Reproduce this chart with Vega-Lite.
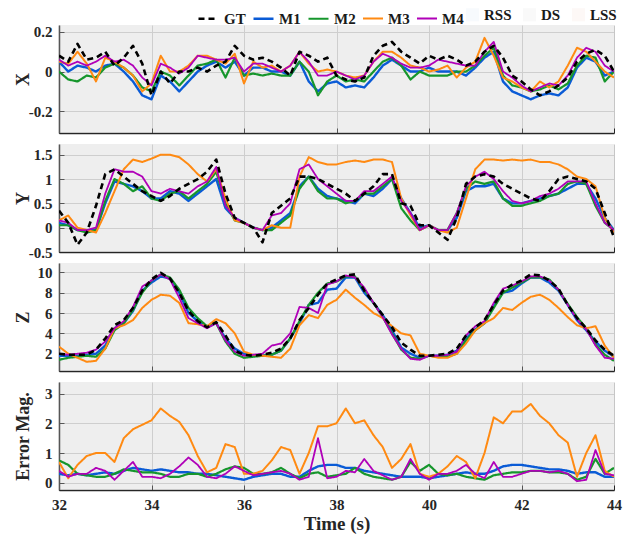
{
"$schema": "https://vega.github.io/schema/vega-lite/v6.json",
"background": "white",
"padding": {"left": 14, "top": 7, "right": 6, "bottom": 3},
"config": {
 "font": "Liberation Serif",
 "view": {"fill": "#f0f0f0", "stroke": null},
 "axis": {"labelFont": "Liberation Serif", "labelFontSize": 15, "labelFontWeight": "bold", "labelColor": "#262626", "titleFont": "Liberation Serif", "titleFontSize": 18, "titleFontWeight": "bold", "titleColor": "#262626", "gridColor": "#c6c6c6", "gridWidth": 1, "domainColor": "#262626", "domainWidth": 1.5, "tickColor": "#262626", "tickSize": -5, "labelPadding": 12, "labelOverlap": false, "labelBound": false, "labelFlush": false},
 "line": {"strokeJoin": "round"}
},
"datasets": {
 "dx": [
{"t":32.0,"GT":0.08,"M1":0.05,"M2":0.0,"M3":0.05,"M4":0.06},
{"t":32.2,"GT":0.05,"M1":0.0,"M2":-0.04,"M3":0.04,"M4":0.03},
{"t":32.4,"GT":0.14,"M1":0.03,"M2":-0.05,"M3":0.1,"M4":0.05},
{"t":32.6,"GT":0.06,"M1":0.02,"M2":-0.02,"M3":0.04,"M4":0.03},
{"t":32.8,"GT":0.07,"M1":0.0,"M2":-0.03,"M3":-0.05,"M4":0.05},
{"t":33.0,"GT":0.1,"M1":0.03,"M2":0.02,"M3":0.07,"M4":0.08},
{"t":33.2,"GT":0.03,"M1":0.04,"M2":0.04,"M3":0.05,"M4":0.05},
{"t":33.4,"GT":0.07,"M1":0.0,"M2":0.02,"M3":0.02,"M4":0.06},
{"t":33.6,"GT":0.13,"M1":-0.05,"M2":-0.02,"M3":-0.02,"M4":0.03},
{"t":33.8,"GT":0.04,"M1":-0.12,"M2":-0.08,"M3":-0.1,"M4":-0.03},
{"t":34.0,"GT":-0.12,"M1":-0.14,"M2":-0.1,"M3":-0.06,"M4":-0.07},
{"t":34.2,"GT":0.0,"M1":-0.02,"M2":0.0,"M3":0.08,"M4":0.04},
{"t":34.4,"GT":-0.06,"M1":-0.05,"M2":-0.02,"M3":0.0,"M4":0.02},
{"t":34.6,"GT":0.0,"M1":-0.1,"M2":-0.07,"M3":0.0,"M4":-0.01},
{"t":34.8,"GT":0.0,"M1":-0.05,"M2":-0.02,"M3":0.03,"M4":0.02},
{"t":35.0,"GT":0.02,"M1":0.0,"M2":0.03,"M3":0.08,"M4":0.08},
{"t":35.2,"GT":0.0,"M1":0.03,"M2":0.04,"M3":0.08,"M4":0.07},
{"t":35.4,"GT":0.03,"M1":0.05,"M2":0.06,"M3":0.06,"M4":0.06},
{"t":35.6,"GT":0.05,"M1":0.02,"M2":-0.03,"M3":0.04,"M4":0.06},
{"t":35.8,"GT":0.13,"M1":0.05,"M2":0.07,"M3":0.09,"M4":0.07},
{"t":36.0,"GT":0.08,"M1":-0.02,"M2":-0.02,"M3":-0.06,"M4":0.0},
{"t":36.2,"GT":0.06,"M1":0.02,"M2":-0.01,"M3":0.05,"M4":0.04},
{"t":36.4,"GT":0.07,"M1":0.02,"M2":-0.02,"M3":0.02,"M4":0.04},
{"t":36.6,"GT":0.05,"M1":0.0,"M2":-0.01,"M3":0.03,"M4":0.02},
{"t":36.8,"GT":0.02,"M1":0.0,"M2":-0.02,"M3":0.0,"M4":0.0},
{"t":37.0,"GT":-0.02,"M1":-0.02,"M2":-0.02,"M3":0.03,"M4":0.03},
{"t":37.2,"GT":0.1,"M1":0.05,"M2":0.05,"M3":0.1,"M4":0.1},
{"t":37.4,"GT":0.08,"M1":-0.05,"M2":0.0,"M3":0.04,"M4":0.05},
{"t":37.6,"GT":0.05,"M1":-0.1,"M2":-0.12,"M3":0.0,"M4":-0.02},
{"t":37.8,"GT":0.07,"M1":-0.06,"M2":-0.05,"M3":0.01,"M4":-0.02},
{"t":38.0,"GT":-0.02,"M1":-0.05,"M2":-0.02,"M3":0.0,"M4":0.0},
{"t":38.2,"GT":-0.04,"M1":-0.08,"M2":-0.05,"M3":-0.02,"M4":-0.02},
{"t":38.4,"GT":-0.05,"M1":-0.07,"M2":-0.04,"M3":-0.03,"M4":-0.04},
{"t":38.6,"GT":-0.03,"M1":-0.08,"M2":-0.05,"M3":-0.02,"M4":-0.02},
{"t":38.8,"GT":0.08,"M1":-0.03,"M2":0.0,"M3":0.05,"M4":0.05},
{"t":39.0,"GT":0.13,"M1":0.03,"M2":0.05,"M3":0.1,"M4":0.09},
{"t":39.2,"GT":0.15,"M1":0.06,"M2":0.07,"M3":0.1,"M4":0.07},
{"t":39.4,"GT":0.1,"M1":0.03,"M2":0.03,"M3":0.07,"M4":0.04},
{"t":39.6,"GT":0.07,"M1":0.0,"M2":-0.04,"M3":0.03,"M4":0.02},
{"t":39.8,"GT":0.04,"M1":0.0,"M2":0.0,"M3":0.02,"M4":0.02},
{"t":40.0,"GT":0.08,"M1":0.02,"M2":-0.02,"M3":0.0,"M4":0.03},
{"t":40.2,"GT":0.06,"M1":0.0,"M2":-0.02,"M3":0.01,"M4":0.06},
{"t":40.4,"GT":0.08,"M1":0.0,"M2":-0.02,"M3":0.03,"M4":0.05},
{"t":40.6,"GT":0.06,"M1":0.0,"M2":0.0,"M3":-0.03,"M4":0.04},
{"t":40.8,"GT":0.03,"M1":-0.02,"M2":0.0,"M3":0.02,"M4":0.03},
{"t":41.0,"GT":0.05,"M1":0.02,"M2":0.03,"M3":0.05,"M4":0.03},
{"t":41.2,"GT":0.1,"M1":0.07,"M2":0.08,"M3":0.17,"M4":0.1},
{"t":41.4,"GT":0.13,"M1":0.1,"M2":0.12,"M3":0.08,"M4":0.15},
{"t":41.6,"GT":0.07,"M1":-0.05,"M2":-0.02,"M3":-0.03,"M4":0.0},
{"t":41.8,"GT":-0.02,"M1":-0.1,"M2":-0.07,"M3":-0.05,"M4":-0.03},
{"t":42.0,"GT":-0.05,"M1":-0.12,"M2":-0.08,"M3":-0.08,"M4":-0.07},
{"t":42.2,"GT":-0.09,"M1":-0.14,"M2":-0.1,"M3":-0.1,"M4":-0.1},
{"t":42.4,"GT":-0.12,"M1":-0.12,"M2":-0.09,"M3":-0.05,"M4":-0.08},
{"t":42.6,"GT":-0.1,"M1":-0.11,"M2":-0.07,"M3":-0.08,"M4":-0.06},
{"t":42.8,"GT":-0.07,"M1":-0.12,"M2":-0.09,"M3":-0.05,"M4":-0.07},
{"t":43.0,"GT":-0.03,"M1":-0.08,"M2":-0.06,"M3":0.03,"M4":-0.02},
{"t":43.2,"GT":0.05,"M1":0.02,"M2":0.03,"M3":0.12,"M4":0.07},
{"t":43.4,"GT":0.09,"M1":0.07,"M2":0.08,"M3":0.1,"M4":0.12},
{"t":43.6,"GT":0.11,"M1":0.05,"M2":0.07,"M3":0.05,"M4":0.1},
{"t":43.8,"GT":0.08,"M1":-0.02,"M2":-0.05,"M3":0.0,"M4":0.03},
{"t":44.0,"GT":0.0,"M1":0.0,"M2":0.0,"M3":-0.03,"M4":0.0}
 ],
 "dy": [
{"t":32.0,"GT":0.35,"M1":0.1,"M2":0.05,"M3":0.15,"M4":0.15},
{"t":32.2,"GT":0.1,"M1":0.05,"M2":0.05,"M3":0.25,"M4":0.1},
{"t":32.4,"GT":-0.35,"M1":-0.05,"M2":-0.05,"M3":0.0,"M4":-0.05},
{"t":32.6,"GT":-0.1,"M1":-0.05,"M2":-0.1,"M3":-0.05,"M4":-0.05},
{"t":32.8,"GT":0.45,"M1":-0.05,"M2":-0.05,"M3":-0.1,"M4":0.0},
{"t":33.0,"GT":1.1,"M1":0.5,"M2":0.55,"M3":0.3,"M4":0.7},
{"t":33.2,"GT":1.2,"M1":0.95,"M2":1.0,"M3":0.75,"M4":1.2},
{"t":33.4,"GT":1.05,"M1":0.9,"M2":0.9,"M3":1.2,"M4":1.15},
{"t":33.6,"GT":0.9,"M1":0.85,"M2":0.75,"M3":1.4,"M4":1.15},
{"t":33.8,"GT":0.75,"M1":0.75,"M2":0.85,"M3":1.35,"M4":1.05},
{"t":34.0,"GT":0.65,"M1":0.6,"M2":0.6,"M3":1.42,"M4":0.75},
{"t":34.2,"GT":0.55,"M1":0.6,"M2":0.55,"M3":1.5,"M4":0.7},
{"t":34.4,"GT":0.65,"M1":0.75,"M2":0.7,"M3":1.5,"M4":0.8},
{"t":34.6,"GT":0.8,"M1":0.7,"M2":0.75,"M3":1.45,"M4":0.75},
{"t":34.8,"GT":0.9,"M1":0.55,"M2":0.6,"M3":1.3,"M4":0.7},
{"t":35.0,"GT":1.0,"M1":0.7,"M2":0.75,"M3":1.1,"M4":0.85},
{"t":35.2,"GT":1.15,"M1":0.85,"M2":0.9,"M3":0.95,"M4":0.95},
{"t":35.4,"GT":1.4,"M1":1.0,"M2":1.15,"M3":1.2,"M4":1.25},
{"t":35.6,"GT":0.7,"M1":0.4,"M2":0.5,"M3":0.6,"M4":0.45},
{"t":35.8,"GT":0.2,"M1":0.2,"M2":0.15,"M3":0.15,"M4":0.2},
{"t":36.0,"GT":0.1,"M1":0.1,"M2":0.1,"M3":0.1,"M4":0.1},
{"t":36.2,"GT":0.0,"M1":0.0,"M2":0.0,"M3":0.0,"M4":0.0},
{"t":36.4,"GT":-0.3,"M1":-0.05,"M2":-0.05,"M3":-0.05,"M4":-0.05},
{"t":36.6,"GT":0.3,"M1":0.0,"M2":-0.05,"M3":0.05,"M4":0.25},
{"t":36.8,"GT":0.45,"M1":0.15,"M2":0.1,"M3":0.0,"M4":0.3},
{"t":37.0,"GT":0.6,"M1":0.3,"M2":0.25,"M3":0.0,"M4":0.5},
{"t":37.2,"GT":1.05,"M1":0.85,"M2":0.8,"M3":1.05,"M4":1.2},
{"t":37.4,"GT":1.05,"M1":1.05,"M2":1.05,"M3":1.45,"M4":1.3},
{"t":37.6,"GT":1.0,"M1":0.8,"M2":0.75,"M3":1.35,"M4":1.0},
{"t":37.8,"GT":0.9,"M1":0.65,"M2":0.6,"M3":1.3,"M4":0.85},
{"t":38.0,"GT":0.8,"M1":0.6,"M2":0.6,"M3":1.3,"M4":0.7},
{"t":38.2,"GT":0.7,"M1":0.55,"M2":0.5,"M3":1.35,"M4":0.55},
{"t":38.4,"GT":0.55,"M1":0.5,"M2":0.55,"M3":1.38,"M4":0.55},
{"t":38.6,"GT":0.7,"M1":0.7,"M2":0.7,"M3":1.35,"M4":0.75},
{"t":38.8,"GT":0.85,"M1":0.65,"M2":0.7,"M3":1.4,"M4":0.75},
{"t":39.0,"GT":1.1,"M1":0.8,"M2":0.85,"M3":1.4,"M4":0.9},
{"t":39.2,"GT":1.1,"M1":1.0,"M2":1.0,"M3":1.35,"M4":1.05},
{"t":39.4,"GT":0.5,"M1":0.6,"M2":0.4,"M3":0.6,"M4":0.55},
{"t":39.6,"GT":0.45,"M1":0.3,"M2":0.15,"M3":0.25,"M4":0.3},
{"t":39.8,"GT":0.05,"M1":0.0,"M2":-0.05,"M3":-0.05,"M4":-0.05},
{"t":40.0,"GT":0.05,"M1":0.05,"M2":0.05,"M3":0.05,"M4":0.05},
{"t":40.2,"GT":-0.1,"M1":-0.05,"M2":-0.05,"M3":-0.05,"M4":-0.05},
{"t":40.4,"GT":-0.25,"M1":-0.05,"M2":-0.05,"M3":-0.1,"M4":-0.05},
{"t":40.6,"GT":0.2,"M1":0.2,"M2":0.3,"M3":0.0,"M4":0.3},
{"t":40.8,"GT":0.9,"M1":0.75,"M2":0.8,"M3":0.6,"M4":0.85},
{"t":41.0,"GT":1.05,"M1":0.85,"M2":0.95,"M3":1.2,"M4":1.05},
{"t":41.2,"GT":1.1,"M1":0.85,"M2":0.9,"M3":1.4,"M4":1.15},
{"t":41.4,"GT":1.05,"M1":0.9,"M2":0.95,"M3":1.4,"M4":1.0},
{"t":41.6,"GT":0.9,"M1":0.6,"M2":0.6,"M3":1.38,"M4":0.75},
{"t":41.8,"GT":0.8,"M1":0.5,"M2":0.45,"M3":1.4,"M4":0.55},
{"t":42.0,"GT":0.7,"M1":0.5,"M2":0.45,"M3":1.38,"M4":0.5},
{"t":42.2,"GT":0.6,"M1":0.55,"M2":0.5,"M3":1.4,"M4":0.55},
{"t":42.4,"GT":0.55,"M1":0.6,"M2":0.55,"M3":1.35,"M4":0.65},
{"t":42.6,"GT":0.75,"M1":0.65,"M2":0.65,"M3":1.35,"M4":0.7},
{"t":42.8,"GT":1.0,"M1":0.7,"M2":0.7,"M3":1.3,"M4":0.8},
{"t":43.0,"GT":1.05,"M1":0.8,"M2":0.9,"M3":1.2,"M4":0.95},
{"t":43.2,"GT":1.0,"M1":0.9,"M2":0.95,"M3":1.05,"M4":0.95},
{"t":43.4,"GT":0.95,"M1":0.9,"M2":0.9,"M3":1.0,"M4":0.95},
{"t":43.6,"GT":0.8,"M1":0.6,"M2":0.45,"M3":0.85,"M4":0.5},
{"t":43.8,"GT":0.3,"M1":0.2,"M2":0.1,"M3":0.2,"M4":0.1},
{"t":44.0,"GT":-0.2,"M1":-0.05,"M2":-0.05,"M3":-0.1,"M4":-0.05}
 ],
 "dz": [
{"t":32.0,"GT":2.0,"M1":1.8,"M2":1.4,"M3":2.7,"M4":2.0},
{"t":32.2,"GT":1.9,"M1":1.8,"M2":1.6,"M3":2.0,"M4":1.9},
{"t":32.4,"GT":1.9,"M1":1.8,"M2":1.7,"M3":1.6,"M4":2.0},
{"t":32.6,"GT":1.9,"M1":1.9,"M2":1.8,"M3":1.2,"M4":2.1},
{"t":32.8,"GT":2.4,"M1":2.0,"M2":1.7,"M3":1.3,"M4":2.4},
{"t":33.0,"GT":3.5,"M1":2.8,"M2":2.5,"M3":2.5,"M4":3.2},
{"t":33.2,"GT":4.8,"M1":4.5,"M2":4.3,"M3":4.5,"M4":4.5},
{"t":33.4,"GT":5.3,"M1":5.0,"M2":5.0,"M3":4.8,"M4":5.2},
{"t":33.6,"GT":6.5,"M1":6.2,"M2":6.3,"M3":5.3,"M4":6.6},
{"t":33.8,"GT":8.2,"M1":8.2,"M2":8.0,"M3":6.5,"M4":8.6},
{"t":34.0,"GT":9.3,"M1":9.0,"M2":9.2,"M3":7.3,"M4":9.2},
{"t":34.2,"GT":9.95,"M1":9.6,"M2":9.8,"M3":7.8,"M4":9.8},
{"t":34.4,"GT":9.4,"M1":9.4,"M2":9.5,"M3":7.7,"M4":9.3},
{"t":34.6,"GT":8.0,"M1":8.0,"M2":8.3,"M3":7.0,"M4":7.5},
{"t":34.8,"GT":6.2,"M1":6.0,"M2":6.5,"M3":5.0,"M4":5.5},
{"t":35.0,"GT":5.2,"M1":5.2,"M2":5.5,"M3":4.9,"M4":5.0},
{"t":35.2,"GT":4.6,"M1":4.6,"M2":4.7,"M3":4.7,"M4":4.5},
{"t":35.4,"GT":5.1,"M1":5.0,"M2":5.0,"M3":5.4,"M4":5.0},
{"t":35.6,"GT":3.8,"M1":3.5,"M2":3.2,"M3":5.0,"M4":3.3},
{"t":35.8,"GT":2.3,"M1":2.5,"M2":2.0,"M3":4.0,"M4":2.2},
{"t":36.0,"GT":1.9,"M1":2.0,"M2":1.6,"M3":2.2,"M4":1.8},
{"t":36.2,"GT":1.8,"M1":1.8,"M2":1.7,"M3":1.9,"M4":1.9},
{"t":36.4,"GT":1.9,"M1":1.8,"M2":1.8,"M3":1.8,"M4":2.0},
{"t":36.6,"GT":2.1,"M1":1.9,"M2":1.9,"M3":1.7,"M4":2.8},
{"t":36.8,"GT":2.5,"M1":2.3,"M2":2.3,"M3":1.6,"M4":3.0},
{"t":37.0,"GT":3.5,"M1":3.5,"M2":3.5,"M3":2.5,"M4":4.0},
{"t":37.2,"GT":5.3,"M1":5.0,"M2":5.2,"M3":4.8,"M4":6.6},
{"t":37.4,"GT":6.5,"M1":6.8,"M2":6.8,"M3":5.8,"M4":6.5},
{"t":37.6,"GT":7.8,"M1":7.0,"M2":8.0,"M3":5.5,"M4":6.0},
{"t":37.8,"GT":8.9,"M1":8.3,"M2":8.9,"M3":6.8,"M4":8.8},
{"t":38.0,"GT":9.3,"M1":8.4,"M2":9.1,"M3":7.3,"M4":9.1},
{"t":38.2,"GT":9.7,"M1":9.5,"M2":9.6,"M3":8.3,"M4":9.7},
{"t":38.4,"GT":9.8,"M1":9.5,"M2":9.6,"M3":7.5,"M4":9.5},
{"t":38.6,"GT":8.2,"M1":8.0,"M2":8.3,"M3":6.8,"M4":8.5},
{"t":38.8,"GT":7.0,"M1":7.0,"M2":7.0,"M3":6.0,"M4":7.0},
{"t":39.0,"GT":5.8,"M1":5.8,"M2":5.6,"M3":5.5,"M4":5.6},
{"t":39.2,"GT":4.6,"M1":4.3,"M2":4.0,"M3":4.7,"M4":3.9},
{"t":39.4,"GT":3.1,"M1":2.6,"M2":2.4,"M3":4.0,"M4":2.5},
{"t":39.6,"GT":2.4,"M1":2.0,"M2":1.6,"M3":3.8,"M4":1.5},
{"t":39.8,"GT":1.8,"M1":1.6,"M2":1.5,"M3":2.0,"M4":1.4},
{"t":40.0,"GT":1.8,"M1":1.8,"M2":1.8,"M3":1.8,"M4":1.8},
{"t":40.2,"GT":1.9,"M1":1.8,"M2":1.7,"M3":1.6,"M4":1.8},
{"t":40.4,"GT":2.0,"M1":1.9,"M2":1.7,"M3":1.6,"M4":1.9},
{"t":40.6,"GT":2.5,"M1":2.3,"M2":2.0,"M3":2.0,"M4":2.2},
{"t":40.8,"GT":3.8,"M1":3.5,"M2":3.3,"M3":3.0,"M4":3.8},
{"t":41.0,"GT":4.6,"M1":4.4,"M2":4.3,"M3":4.3,"M4":4.7},
{"t":41.2,"GT":5.3,"M1":5.0,"M2":5.0,"M3":5.0,"M4":5.2},
{"t":41.4,"GT":6.8,"M1":6.8,"M2":6.5,"M3":5.5,"M4":7.0},
{"t":41.6,"GT":8.2,"M1":8.0,"M2":8.0,"M3":6.5,"M4":8.4},
{"t":41.8,"GT":8.8,"M1":8.2,"M2":8.5,"M3":6.3,"M4":8.7},
{"t":42.0,"GT":9.2,"M1":8.9,"M2":9.0,"M3":7.0,"M4":9.1},
{"t":42.2,"GT":9.8,"M1":9.5,"M2":9.5,"M3":7.6,"M4":9.6},
{"t":42.4,"GT":9.7,"M1":9.5,"M2":9.5,"M3":7.8,"M4":9.6},
{"t":42.6,"GT":9.2,"M1":9.0,"M2":9.3,"M3":7.3,"M4":9.2},
{"t":42.8,"GT":8.4,"M1":8.2,"M2":8.3,"M3":6.5,"M4":8.3},
{"t":43.0,"GT":6.8,"M1":6.8,"M2":6.9,"M3":5.6,"M4":6.8},
{"t":43.2,"GT":5.5,"M1":5.3,"M2":5.6,"M3":4.8,"M4":5.4},
{"t":43.4,"GT":4.5,"M1":4.3,"M2":4.5,"M3":4.5,"M4":4.4},
{"t":43.6,"GT":3.3,"M1":3.2,"M2":2.9,"M3":4.7,"M4":2.8},
{"t":43.8,"GT":2.4,"M1":2.3,"M2":1.9,"M3":2.8,"M4":1.6},
{"t":44.0,"GT":1.8,"M1":1.7,"M2":1.3,"M3":1.6,"M4":1.5}
 ],
 "de": [
{"t":32.0,"M1":0.3,"M2":0.75,"M3":0.7,"M4":0.4},
{"t":32.2,"M1":0.25,"M2":0.6,"M3":0.15,"M4":0.2},
{"t":32.4,"M1":0.3,"M2":0.3,"M3":0.6,"M4":0.3},
{"t":32.6,"M1":0.25,"M2":0.25,"M3":0.9,"M4":0.3},
{"t":32.8,"M1":0.3,"M2":0.2,"M3":1.0,"M4":0.5},
{"t":33.0,"M1":0.35,"M2":0.2,"M3":1.0,"M4":0.4},
{"t":33.2,"M1":0.3,"M2":0.3,"M3":0.7,"M4":0.1},
{"t":33.4,"M1":0.4,"M2":0.45,"M3":1.5,"M4":0.4},
{"t":33.6,"M1":0.5,"M2":0.4,"M3":1.8,"M4":0.7},
{"t":33.8,"M1":0.45,"M2":0.35,"M3":1.95,"M4":0.2},
{"t":34.0,"M1":0.4,"M2":0.35,"M3":2.1,"M4":0.2},
{"t":34.2,"M1":0.45,"M2":0.3,"M3":2.5,"M4":0.15},
{"t":34.4,"M1":0.4,"M2":0.2,"M3":2.25,"M4":0.3},
{"t":34.6,"M1":0.35,"M2":0.2,"M3":2.05,"M4":0.55},
{"t":34.8,"M1":0.35,"M2":0.3,"M3":1.6,"M4":0.85},
{"t":35.0,"M1":0.3,"M2":0.3,"M3":0.9,"M4":0.6},
{"t":35.2,"M1":0.3,"M2":0.2,"M3":0.35,"M4":0.2},
{"t":35.4,"M1":0.25,"M2":0.3,"M3":0.5,"M4":0.15},
{"t":35.6,"M1":0.2,"M2":0.45,"M3":1.3,"M4":0.3},
{"t":35.8,"M1":0.15,"M2":0.55,"M3":1.2,"M4":0.55},
{"t":36.0,"M1":0.1,"M2":0.5,"M3":0.3,"M4":0.4},
{"t":36.2,"M1":0.2,"M2":0.3,"M3":0.3,"M4":0.25},
{"t":36.4,"M1":0.25,"M2":0.3,"M3":0.4,"M4":0.3},
{"t":36.6,"M1":0.3,"M2":0.35,"M3":0.75,"M4":0.35},
{"t":36.8,"M1":0.3,"M2":0.5,"M3":1.2,"M4":0.4},
{"t":37.0,"M1":0.2,"M2":0.3,"M3":1.1,"M4":0.3},
{"t":37.2,"M1":0.2,"M2":0.15,"M3":0.3,"M4":0.1},
{"t":37.4,"M1":0.4,"M2":0.3,"M3":1.0,"M4":0.2},
{"t":37.6,"M1":0.55,"M2":0.35,"M3":1.9,"M4":1.5},
{"t":37.8,"M1":0.6,"M2":0.2,"M3":1.9,"M4":0.15},
{"t":38.0,"M1":0.6,"M2":0.25,"M3":2.0,"M4":0.2},
{"t":38.2,"M1":0.5,"M2":0.3,"M3":2.5,"M4":0.4},
{"t":38.4,"M1":0.5,"M2":0.5,"M3":2.0,"M4":0.35},
{"t":38.6,"M1":0.4,"M2":0.3,"M3":2.1,"M4":0.8},
{"t":38.8,"M1":0.35,"M2":0.2,"M3":1.6,"M4":0.4},
{"t":39.0,"M1":0.3,"M2":0.15,"M3":1.2,"M4":0.25},
{"t":39.2,"M1":0.25,"M2":0.1,"M3":0.5,"M4":0.1},
{"t":39.4,"M1":0.2,"M2":0.2,"M3":0.8,"M4":0.2},
{"t":39.6,"M1":0.2,"M2":0.7,"M3":1.3,"M4":0.8},
{"t":39.8,"M1":0.2,"M2":0.4,"M3":0.3,"M4":0.3},
{"t":40.0,"M1":0.15,"M2":0.6,"M3":0.2,"M4":0.1},
{"t":40.2,"M1":0.2,"M2":0.3,"M3":0.3,"M4":0.3},
{"t":40.4,"M1":0.25,"M2":0.25,"M3":0.55,"M4":0.3},
{"t":40.6,"M1":0.3,"M2":0.3,"M3":0.9,"M4":0.4},
{"t":40.8,"M1":0.35,"M2":0.2,"M3":0.7,"M4":0.6},
{"t":41.0,"M1":0.3,"M2":0.15,"M3":0.15,"M4":0.3},
{"t":41.2,"M1":0.3,"M2":0.1,"M3":1.0,"M4":0.15},
{"t":41.4,"M1":0.4,"M2":0.25,"M3":2.2,"M4":0.7},
{"t":41.6,"M1":0.55,"M2":0.3,"M3":2.0,"M4":0.2},
{"t":41.8,"M1":0.6,"M2":0.35,"M3":2.4,"M4":0.2},
{"t":42.0,"M1":0.6,"M2":0.35,"M3":2.4,"M4":0.3},
{"t":42.2,"M1":0.55,"M2":0.4,"M3":2.65,"M4":0.4},
{"t":42.4,"M1":0.5,"M2":0.4,"M3":2.25,"M4":0.4},
{"t":42.6,"M1":0.45,"M2":0.35,"M3":2.0,"M4":0.35},
{"t":42.8,"M1":0.45,"M2":0.35,"M3":1.6,"M4":0.4},
{"t":43.0,"M1":0.4,"M2":0.3,"M3":1.35,"M4":0.3},
{"t":43.2,"M1":0.3,"M2":0.1,"M3":0.2,"M4":0.05},
{"t":43.4,"M1":0.35,"M2":0.2,"M3":1.0,"M4":0.1},
{"t":43.6,"M1":0.35,"M2":0.8,"M3":1.6,"M4":1.1},
{"t":43.8,"M1":0.2,"M2":0.3,"M3":0.4,"M4":0.3},
{"t":44.0,"M1":0.2,"M2":0.5,"M3":0.2,"M4":0.25}
 ],
 "ph": [{"ph":"DS","t":32,"t2":44}]
},
"spacing": 11,
"bounds": "flush",
"resolve": {"scale": {"x": "shared", "y": "independent", "color": "shared", "strokeDash": "shared", "strokeWidth": "shared", "fill": "shared"}},
"vconcat": [
 {
  "width": 555, "height": 108,
  "encoding": {"x": {"field": "t", "type": "quantitative", "scale": {"domain": [32, 44], "nice": false}, "axis": {"tickCount": 6, "labels": false, "title": null, "grid": true}}},
  "layer": [
   {"data": {"name": "ph"}, "mark": {"type": "rect", "opacity": 0.25},
    "encoding": {"x2": {"field": "t2"}, "fill": {"field": "ph", "type": "nominal", "scale": {"domain": ["RSS","DS","LSS"], "range": ["#e1ecf8","#e6e6e6","#f9e4dd"]}, "legend": {"orient": "none", "legendX": 406, "legendY": -18, "direction": "horizontal", "title": null, "symbolType": "square", "symbolSize": 170, "symbolOpacity": 1, "symbolStrokeWidth": 0, "labelFontSize": 15, "labelFont": "Liberation Serif", "labelFontWeight": "bold", "labelColor": "#1a1a1a", "columnPadding": 10, "labelOffset": 4, "padding": 0}}}},
   {"data": {"name": "dx"}, "transform": [{"fold": ["M1","M2","M3","M4","GT"], "as": ["s","v"]}, {"filter": "datum.s != 'GT'"}],
    "mark": {"type": "line", "clip": true},
    "encoding": {
     "y": {"field": "v", "type": "quantitative", "scale": {"domain": [-0.31, 0.235], "nice": false, "zero": false}, "axis": {"tickCount": 3, "labelOverlap": false, "labelExpr": "replace(format(datum.value, '.1~f'), '\u2212', '-')", "title": "X", "titleAngle": 270, "titleBaseline": "middle", "titleAlign": "center", "titleX": -36}},
     "color": {"field": "s", "type": "nominal", "scale": {"domain": ["GT","M1","M2","M3","M4"], "range": ["#000000","#0a5bd6","#16962c","#ff8a12","#b000b8"]}, "legend": {"orient": "none", "legendX": 138, "legendY": -18, "direction": "horizontal", "title": null, "symbolType": "stroke", "symbolSize": 400, "labelFontSize": 15, "labelFont": "Liberation Serif", "labelFontWeight": "bold", "labelColor": "#1a1a1a", "columnPadding": 6, "labelOffset": 4, "padding": 0}},
     "strokeDash": {"field": "s", "type": "nominal", "scale": {"domain": ["GT","M1","M2","M3","M4"], "range": [[6,4],[1,0],[1,0],[1,0],[1,0]]}},
     "strokeWidth": {"field": "s", "type": "nominal", "scale": {"domain": ["GT","M1","M2","M3","M4"], "range": [2.6,1.8,1.8,1.8,1.8]}}
    }},
   {"data": {"name": "dx"}, "transform": [{"fold": ["M1","M2","M3","M4","GT"], "as": ["s","v"]}, {"filter": "datum.s == 'GT'"}],
    "mark": {"type": "line", "clip": true},
    "encoding": {
     "y": {"field": "v", "type": "quantitative"},
     "color": {"field": "s", "type": "nominal"},
     "strokeDash": {"field": "s", "type": "nominal"},
     "strokeWidth": {"field": "s", "type": "nominal"}
    }}
  ]
 },
 {
  "width": 555, "height": 108,
  "encoding": {"x": {"field": "t", "type": "quantitative", "scale": {"domain": [32, 44], "nice": false}, "axis": {"tickCount": 6, "labels": false, "title": null, "grid": true}}},
  "layer": [
   {"data": {"name": "ph"}, "mark": {"type": "rect", "opacity": 0.25},
    "encoding": {"x2": {"field": "t2"}, "fill": {"field": "ph", "type": "nominal"}}},
   {"data": {"name": "dy"}, "transform": [{"fold": ["M1","M2","M3","M4","GT"], "as": ["s","v"]}, {"filter": "datum.s != 'GT'"}],
    "mark": {"type": "line", "clip": true},
    "encoding": {
     "y": {"field": "v", "type": "quantitative", "scale": {"domain": [-0.5, 1.72], "nice": false, "zero": false}, "axis": {"tickCount": 5, "labelOverlap": false, "labelExpr": "replace(format(datum.value, '.1~f'), '\u2212', '-')", "title": "Y", "titleAngle": 270, "titleBaseline": "middle", "titleAlign": "center", "titleX": -36}},
     "color": {"field": "s", "type": "nominal"},
     "strokeDash": {"field": "s", "type": "nominal"},
     "strokeWidth": {"field": "s", "type": "nominal"}
    }},
   {"data": {"name": "dy"}, "transform": [{"fold": ["M1","M2","M3","M4","GT"], "as": ["s","v"]}, {"filter": "datum.s == 'GT'"}],
    "mark": {"type": "line", "clip": true},
    "encoding": {
     "y": {"field": "v", "type": "quantitative"},
     "color": {"field": "s", "type": "nominal"},
     "strokeDash": {"field": "s", "type": "nominal"},
     "strokeWidth": {"field": "s", "type": "nominal"}
    }}
  ]
 },
 {
  "width": 555, "height": 108,
  "encoding": {"x": {"field": "t", "type": "quantitative", "scale": {"domain": [32, 44], "nice": false}, "axis": {"tickCount": 6, "labels": false, "title": null, "grid": true}}},
  "layer": [
   {"data": {"name": "ph"}, "mark": {"type": "rect", "opacity": 0.25},
    "encoding": {"x2": {"field": "t2"}, "fill": {"field": "ph", "type": "nominal"}}},
   {"data": {"name": "dz"}, "transform": [{"fold": ["M1","M2","M3","M4","GT"], "as": ["s","v"]}, {"filter": "datum.s != 'GT'"}],
    "mark": {"type": "line", "clip": true},
    "encoding": {
     "y": {"field": "v", "type": "quantitative", "scale": {"domain": [0.3, 10.92], "nice": false, "zero": false}, "axis": {"tickCount": 5, "labelOverlap": false, "labelExpr": "format(datum.value, '.0f')", "title": "Z", "titleAngle": 270, "titleBaseline": "middle", "titleAlign": "center", "titleX": -36}},
     "color": {"field": "s", "type": "nominal"},
     "strokeDash": {"field": "s", "type": "nominal"},
     "strokeWidth": {"field": "s", "type": "nominal"}
    }},
   {"data": {"name": "dz"}, "transform": [{"fold": ["M1","M2","M3","M4","GT"], "as": ["s","v"]}, {"filter": "datum.s == 'GT'"}],
    "mark": {"type": "line", "clip": true},
    "encoding": {
     "y": {"field": "v", "type": "quantitative"},
     "color": {"field": "s", "type": "nominal"},
     "strokeDash": {"field": "s", "type": "nominal"},
     "strokeWidth": {"field": "s", "type": "nominal"}
    }}
  ]
 },
 {
  "width": 555, "height": 108,
  "encoding": {"x": {"field": "t", "type": "quantitative", "scale": {"domain": [32, 44], "nice": false}, "axis": {"tickCount": 6, "labelOverlap": false, "labelExpr": "format(datum.value, '.0f')", "title": "Time (s)", "titleFontSize": 19, "labelPadding": 12.5, "titlePadding": 2, "grid": true}}},
  "layer": [
   {"data": {"name": "ph"}, "mark": {"type": "rect", "opacity": 0.25},
    "encoding": {"x2": {"field": "t2"}, "fill": {"field": "ph", "type": "nominal"}}},
   {"data": {"name": "de"}, "transform": [{"fold": ["M1","M2","M3","M4"], "as": ["s","v"]}],
    "mark": {"type": "line", "clip": true},
    "encoding": {
     "y": {"field": "v", "type": "quantitative", "scale": {"domain": [-0.245, 3.39], "nice": false, "zero": false}, "axis": {"tickCount": 4, "labelOverlap": false, "labelExpr": "format(datum.value, '.0f')", "title": "Error Mag.", "titleAngle": 270, "titleBaseline": "middle", "titleAlign": "center", "titleX": -36}},
     "color": {"field": "s", "type": "nominal"},
     "strokeDash": {"field": "s", "type": "nominal"},
     "strokeWidth": {"field": "s", "type": "nominal"}
    }}
  ]
 }
]
}
